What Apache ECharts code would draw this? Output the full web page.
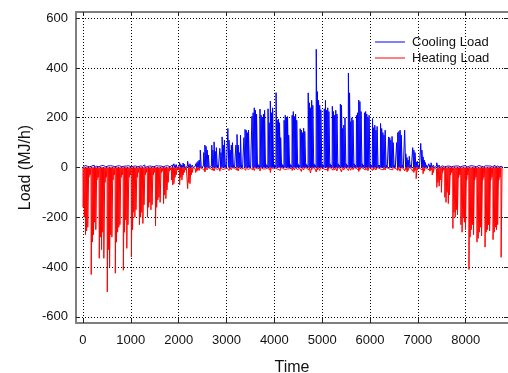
<!DOCTYPE html>
<html>
<head>
<meta charset="utf-8">
<script src="https://cdn.jsdelivr.net/npm/echarts@6/dist/echarts.min.js"></script>
<style>
html, body { margin: 0; padding: 0; background: #fff; }
#chart { width: 508px; height: 373px; }
</style>
</head>
<body>
<div id="chart"></div>
<script>
// daily peak load (MJ/h), one row per week (Mon..Sun)
var coolingDaily = [
  5, 8, 6, 5, 7, 3, 3,
  6, 5, 9, 6, 5, 3, 3,
  5, 7, 5, 8, 6, 3, 3,
  6, 5, 7, 5, 6, 3, 3,
  8, 6, 5, 7, 5, 3, 3,
  5, 9, 6, 5, 7, 3, 3,
  7, 5, 8, 6, 5, 3, 3,
  6, 8, 5, 7, 10, 3, 3,
  8, 6, 7, 5, 9, 3, 3,
  7, 10, 6, 8, 6, 3, 3,
  9, 6, 12, 7, 8, 3, 3,
  10, 8, 15, 9, 12, 4, 4,
  20, 12, 10, 18, 14, 4, 4,
  25, 10, 15, 8, 10, 5, 5,
  15, 20, 25, 30, 70, 5, 5,
  60, 90, 85, 70, 50, 5, 5,
  90, 70, 103, 65, 80, 10, 5,
  77, 60, 123, 90, 110, 10, 5,
  157, 110, 70, 90, 100, 10, 5,
  90, 133, 90, 60, 130, 10, 5,
  120, 153, 150, 140, 150, 10, 5,
  206, 220, 240, 230, 215, 15, 10,
  235, 210, 200, 215, 230, 15, 10,
  236, 180, 267, 220, 240, 15, 10,
  301, 190, 195, 180, 120, 15, 10,
  190, 210, 200, 205, 130, 15, 10,
  210, 225, 205, 215, 190, 15, 10,
  156, 150, 140, 158, 145, 15, 10,
  300, 260, 240, 270, 250, 15, 10,
  475, 305, 270, 250, 232, 15, 10,
  236, 270, 230, 240, 225, 15, 10,
  246, 225, 210, 230, 215, 15, 10,
  255, 250, 157, 170, 200, 15, 10,
  380, 300, 184, 200, 190, 15, 10,
  210, 220, 271, 265, 225, 15, 10,
  220, 225, 215, 200, 210, 15, 10,
  197, 160, 170, 150, 165, 10, 10,
  177, 157, 140, 130, 150, 10, 5,
  123, 120, 110, 125, 100, 10, 5,
  100, 140, 145, 150, 130, 10, 5,
  150, 55, 40, 30, 45, 10, 5,
  80, 70, 60, 22, 25, 10, 5,
  97, 70, 43, 30, 20, 10, 5,
  15, 10, 19, 8, 10, 5, 5,
  19, 8, 10, 6, 7, 3, 3,
  6, 5, 8, 6, 5, 3, 3,
  5, 7, 6, 5, 6, 3, 3,
  8, 6, 5, 7, 5, 3, 3,
  6, 5, 7, 6, 5, 3, 3,
  5, 8, 6, 5, 12, 3, 3,
  7, 5, 6, 8, 6, 3, 3,
  6, 9, 5, 6, 5, 3, 3,
  5
];

var heatingDaily = [
  -160, -200, -270, -255, -240, -40, -30,
  -430, -300, -270, -220, -250, -50, -40,
  -365, -280, -330, -260, -365, -60, -40,
  -500, -330, -400, -270, -280, -50, -30,
  -425, -300, -260, -240, -230, -40, -30,
  -413, -260, -210, -325, -230, -40, -30,
  -360, -250, -180, -200, -170, -40, -20,
  -230, -200, -180, -225, -150, -30, -20,
  -200, -160, -140, -170, -150, -30, -20,
  -235, -160, -130, -120, -140, -20, -15,
  -145, -110, -125, -90, -60, -15, -10,
  -50, -70, -65, -40, -30, -10, -10,
  -70, -40, -50, -30, -20, -10, -5,
  -85, -60, -65, -30, -20, -5, -5,
  -20, -15, -10, -12, -8, -5, -5,
  -12, -18, -8, -10, -6, -4, -4,
  -10, -8, -14, -6, -8, -4, -3,
  -15, -6, -8, -10, -5, -3, -3,
  -8, -12, -6, -9, -5, -3, -3,
  -10, -6, -14, -8, -6, -3, -3,
  -7, -11, -6, -8, -5, -3, -3,
  -9, -6, -12, -7, -5, -3, -3,
  -14, -8, -6, -10, -6, -3, -3,
  -6, -9, -20, -7, -5, -3, -3,
  -10, -7, -8, -12, -6, -3, -3,
  -8, -14, -6, -9, -5, -3, -3,
  -12, -7, -10, -6, -8, -3, -3,
  -9, -16, -7, -10, -6, -3, -3,
  -10, -8, -22, -9, -6, -3, -3,
  -18, -10, -8, -12, -7, -3, -3,
  -8, -12, -9, -15, -6, -3, -3,
  -11, -7, -10, -8, -14, -3, -3,
  -9, -18, -7, -10, -6, -3, -3,
  -12, -8, -11, -7, -9, -3, -3,
  -8, -10, -16, -9, -6, -3, -3,
  -10, -7, -9, -13, -6, -3, -3,
  -12, -9, -7, -10, -8, -3, -3,
  -8, -14, -9, -7, -10, -3, -3,
  -10, -8, -12, -9, -7, -3, -3,
  -9, -12, -8, -15, -6, -3, -3,
  -14, -10, -18, -12, -8, -4, -4,
  -15, -20, -12, -45, -10, -5, -5,
  -12, -10, -25, -15, -8, -5, -5,
  -10, -15, -10, -30, -20, -5, -5,
  -80, -60, -75, -50, -100, -20, -10,
  -120, -140, -100, -145, -110, -30, -20,
  -245, -180, -200, -170, -190, -40, -30,
  -230, -260, -200, -220, -250, -50, -30,
  -410, -280, -250, -230, -270, -50, -40,
  -300, -285, -260, -240, -275, -50, -40,
  -320, -260, -250, -230, -255, -50, -40,
  -290, -260, -240, -250, -230, -50, -40,
  -361
];

var xTicks = [0, 1000, 2000, 3000, 4000, 5000, 6000, 7000, 8000];
var yTicks = [-600, -400, -200, 0, 200, 400, 600];

// each day: off at midnight, on during working hours
function dayShape(daily) {
  var pts = [];
  for (var d = 0; d < daily.length; d++) {
    pts.push([d * 24, 0]);
    pts.push([d * 24 + 4, daily[d]]);
    pts.push([d * 24 + 20, daily[d]]);
  }
  pts.push([daily.length * 24, 0]);
  return pts;
}

var chart = echarts.init(document.getElementById('chart'));
var font = 'Liberation Sans, Arial, sans-serif';
var gridLine = { show: true, lineStyle: { color: '#000', width: 1, type: [1, 2] } };
var frame = { show: true, onZero: false, lineStyle: { color: '#7f7f7f', width: 2 } };
var plain = function (v) { return String(v); };

var option = {
  animation: false,
  textStyle: { fontFamily: font },
  grid: { left: 76, right: 0, top: 12, bottom: 50, outerBoundsMode: 'none', containLabel: false },
  legend: {
    data: ['Cooling Load', 'Heating Load'],
    orient: 'vertical',
    left: 375,
    top: 35.5,
    padding: 0,
    icon: 'rect',
    itemWidth: 30,
    itemHeight: 1,
    itemGap: 3,
    textStyle: { fontSize: 13, color: '#111', fontFamily: font, padding: [0, 0, 0, 2] }
  },
  xAxis: [{
    type: 'value',
    min: -146,
    max: 8884,
    name: 'Time',
    nameLocation: 'middle',
    nameGap: 37,
    nameMoveOverlap: false,
    nameTextStyle: { fontSize: 16, color: '#111' },
    axisLine: frame,
    axisTick: { show: true, inside: true, length: 4, customValues: xTicks, lineStyle: { color: '#222' } },
    axisLabel: { customValues: xTicks, formatter: plain, fontSize: 13, color: '#111', margin: 11 },
    splitLine: gridLine
  }, {
    type: 'value',
    position: 'top',
    min: -146,
    max: 8884,
    axisLine: frame,
    axisTick: { show: true, inside: true, length: 4, customValues: xTicks, lineStyle: { color: '#222' } },
    axisLabel: { show: false },
    splitLine: { show: false }
  }],
  yAxis: [{
    type: 'value',
    min: -625,
    max: 625,
    name: 'Load (MJ/h)',
    nameLocation: 'middle',
    nameGap: 42,
    nameMoveOverlap: false,
    nameTextStyle: { fontSize: 16, color: '#111' },
    axisLine: frame,
    axisTick: { show: true, inside: true, length: 4, customValues: yTicks, lineStyle: { color: '#222' } },
    axisLabel: { customValues: yTicks, formatter: plain, fontSize: 13, color: '#111', margin: 8 },
    splitLine: gridLine
  }, {
    type: 'value',
    position: 'right',
    min: -625,
    max: 625,
    axisLine: { show: false, onZero: false },
    axisTick: { show: true, inside: true, length: 4, customValues: yTicks, lineStyle: { color: '#222' } },
    axisLabel: { show: false },
    splitLine: { show: false }
  }],
  series: [
    {
      name: 'Cooling Load',
      type: 'line',
      data: dayShape(coolingDaily),
      symbol: 'none',
      color: '#0000ff',
      lineStyle: { color: '#0000ff', width: 1 }
    },
    {
      name: 'Heating Load',
      type: 'line',
      data: dayShape(heatingDaily),
      symbol: 'none',
      color: '#ff0000',
      lineStyle: { color: '#ff0000', width: 1 }
    }
  ]
};

chart.setOption(option);
</script>
</body>
</html>
